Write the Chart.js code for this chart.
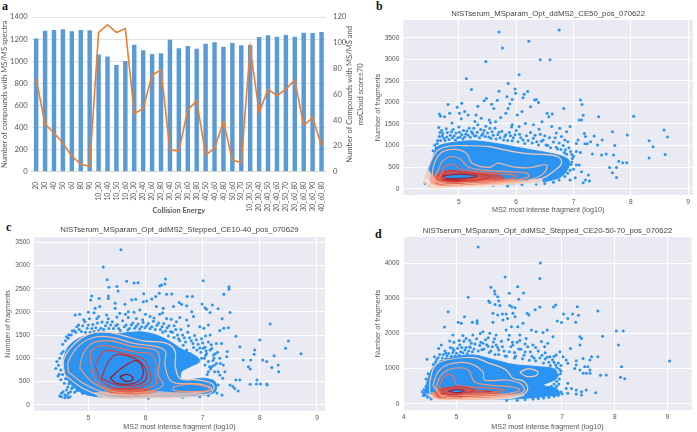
<!DOCTYPE html>
<html><head><meta charset="utf-8">
<style>
html,body{margin:0;padding:0;background:#fff;width:697px;height:432px;overflow:hidden}
canvas{position:absolute}
.tag{position:absolute;font:bold 12px "Liberation Serif",serif;color:#111}
</style>
<script src="https://cdn.jsdelivr.net/npm/chart.js@4"></script>
</head><body>
<div class="tag" style="left:2px;top:-1px">a</div>
<div class="tag" style="left:376px;top:-1px">b</div>
<div class="tag" style="left:6px;top:220px">c</div>
<div class="tag" style="left:375px;top:227px">d</div>
<canvas id="ca" style="left:0;top:0"></canvas>
<canvas id="cb" style="left:350px;top:0"></canvas>
<canvas id="cc" style="left:0;top:215px"></canvas>
<canvas id="cd" style="left:350px;top:215px"></canvas>
<script>
/* ---------- panel a ---------- */
const energies = ["20","30","40","50","60","80","90","10_30","10_40","10_50","10_60","20_30","20_40","20_60","20_80","30_40","30_50","30_60","30_80","40_50","40_60","40_80","50_60","50_70","10_30_50","20_30_40","20_40_50","20_40_60","20_50_70","20_60_80","30_60_80","30_60_90","40_60_80"];
const compoundsWithSpectra = [1205,1275,1283,1290,1272,1283,1280,1060,1042,965,1002,1150,1100,1065,1072,1195,1118,1138,1112,1157,1172,1130,1165,1145,1147,1220,1235,1222,1238,1222,1258,1255,1265];
const compoundsWithScore = [72,37,30,22,12,6,4,108,114,108,111,45,49,75,79,17,16,48,55,13,18,39,9,7,96,46,64,59,64,71,36,42,20];
const leftTicks = [0,200,400,600,800,1000,1200,1400];
const rightTicks = [0,20,40,60,80,100,120];

/* ---------- panel b ---------- */
const bTitle = "NISTserum_MSparam_Opt_ddMS2_CE50_pos_070622";
const bXTicks = [5,6,7,8,9];
const bYTicks = [0,500,1000,1500,2000,2500,3000,3500];
const bPoints = [[5.70,3630],[5.76,3260],[5.47,2950],[6.22,3415],[6.42,2990],[6.59,2990],[6.75,3680],[6.05,2640],[5.13,2550],[5.22,2300],[5.86,2440],[5.70,2260],[5.98,2310],[5.99,2210],[6.20,2250],[6.14,2190],[6.12,2110],[5.84,2130],[5.48,2090],[5.44,2040],[4.81,1950],[4.97,1890],[5.05,1980],[5.33,1910],[5.67,2050],[5.57,1960],[5.61,1860],[5.93,2070],[5.89,1970],[5.86,1860],[5.82,1750],[6.32,2055],[6.35,2070],[6.39,2000],[6.25,1900],[6.10,1790],[6.02,1710],[6.54,1750],[6.57,1670],[6.63,1730],[6.83,1860],[7.12,2055],[7.15,1950],[7.17,1700],[7.10,1590],[7.14,1590],[7.44,1670],[8.05,1680],[4.66,1730],[4.68,1680],[4.75,1670],[4.84,1750],[5.01,1750],[5.10,1790],[5.16,1710],[5.30,1710],[5.39,1630],[5.53,1590],[5.73,1650],[5.64,1550],[5.93,1480],[6.05,1440],[6.16,1510],[6.30,1480],[6.45,1550],[6.62,1440],[6.76,1400],[6.94,1440],[6.88,1320],[6.79,1210],[8.58,1360],[8.64,1200],[8.32,1110],[8.39,975],[8.32,710],[8.60,795],[7.94,1245],[7.68,1320],[7.72,1000],[7.36,1220],[7.50,1130],[7.42,1010],[7.19,1280],[7.21,1210],[7.30,1090],[7.08,1130],[7.05,1050],[7.20,1040],[7.24,1040],[7.12,840],[7.33,805],[7.05,860],[7.49,780],[7.57,805],[7.70,780],[7.79,635],[7.86,600],[7.93,600],[7.63,490],[7.75,490],[7.68,370],[7.75,260],[7.05,550],[7.10,550],[7.14,395],[7.26,320],[7.21,200],[7.28,180],[7.17,140],[7.03,255],[6.94,200],
[4.65,1420],[4.70,1350],[4.72,1280],[4.66,1210],[4.78,1390],[4.80,1300],[4.85,1240],[4.68,1120],[4.74,1170],[4.90,1370],[4.95,1290],[5.00,1430],[5.02,1200],[5.08,1350],[5.12,1270],[5.18,1400],[5.22,1320],[5.27,1230],[5.33,1480],[5.38,1370],[5.42,1280],[5.47,1450],[5.52,1200],[5.58,1320],[5.63,1400],[5.68,1250],[5.75,1330],[5.80,1210],[5.88,1300],[5.95,1180],[6.00,1350],[6.06,1260],[6.12,1130],[6.18,1230],[6.25,1300],[6.30,1170],[6.36,1090],[6.42,1260],[6.47,1130],[6.52,1010],[6.58,1180],[6.65,1080],[6.70,960],[6.75,1060],[6.82,1000],[6.86,900],[6.90,1090],[6.95,860],[6.98,700],[7.00,450],[6.97,620],[4.62,1050],[4.60,950],[4.55,880],[5.92,1430],[5.55,1530],[5.28,1560],[5.04,1620],[4.88,1520],[6.40,1380],[6.70,1290],[6.85,1130],
[4.58,1010],[4.63,1120],[4.67,1300],[4.71,1220],[4.76,1120],[4.79,1200],[4.83,1140],[4.87,1320],[4.89,1180],[4.92,1230],[4.94,1130],[4.98,1180],[5.01,1310],[5.05,1250],[5.07,1150],[5.10,1200],[5.14,1340],[5.16,1240],[5.20,1190],[5.24,1280],[5.26,1400],[5.30,1220],[5.32,1310],[5.36,1180],[5.40,1240],[5.44,1350],[5.46,1210],[5.50,1290],[5.54,1400],[5.56,1170],[5.60,1240],[5.65,1150],[5.70,1310],[5.72,1180],[5.78,1130],[5.82,1250],[5.85,1120],[5.90,1230],[5.93,1110],[5.98,1250],[6.03,1090],[6.08,1180],[6.15,1050],[6.21,1120],[6.28,1060],[6.33,1240],[6.39,1010],[6.44,1100],[6.50,1230],[6.55,1000],[6.60,950],[6.68,1180],[6.72,920],[6.78,910],[6.84,840],[6.88,800],[6.92,950],[6.97,790],[7.00,750],[6.96,560],[6.94,430],[6.90,360],[6.85,280],[6.75,200],[6.65,150],[6.50,120],[6.35,110],[4.41,120],[4.44,260],[4.47,430],[4.52,600],[4.50,90],[5.60,80],[5.85,60],[6.10,100]];
const bDense = [[4.45,355],[4.55,740],[4.62,970],[4.84,1060],[5.24,1110],[5.64,1050],[6.10,940],[6.56,830],[6.79,760],[6.92,665],[6.92,510],[6.79,280],[6.56,180],[6.27,145],[5.87,105],[5.41,110],[4.84,110],[4.49,160]];
const bFills = [
 {color:"rgba(253,224,208,0.85)",ring:[[4.39,240],[4.46,430],[4.55,300],[4.84,250],[5.99,180],[6.45,220],[6.45,130],[5.99,100],[5.41,50],[4.84,15],[4.49,30]]},
 {color:"rgba(245,160,130,0.9)",ring:[[4.50,320],[4.80,270],[5.60,240],[6.10,180],[5.80,110],[5.20,70],[4.70,60],[4.52,120]]},
 {color:"rgba(225,70,55,0.8)",ring:[[4.55,300],[4.75,420],[5.05,420],[5.45,380],[5.75,300],[5.80,190],[5.45,120],[4.95,90],[4.62,110]]},
 {color:"rgba(175,15,30,0.95)",ring:[[4.67,220],[5.07,210],[5.41,185],[5.13,115],[4.75,125]]},
 {color:"#2b93f2",ring:[[4.72,295],[4.95,330],[5.27,315],[5.31,280],[5.07,240],[4.78,240]]}];
const bContours = [
 {color:"#f9cdb8",ring:[[4.41,240],[4.52,665],[4.64,895],[4.84,990],[5.13,997],[5.53,975],[5.82,895],[6.16,820],[6.62,780],[6.75,725],[6.79,585],[6.68,430],[6.45,240],[5.99,140],[5.41,85],[4.84,45],[4.49,45],[4.39,160]]},
 {color:"#f4b59e",ring:[[4.54,430],[4.60,680],[4.72,860],[4.95,910],[5.13,820],[5.23,590],[5.53,495],[5.67,590],[5.82,550],[5.93,510],[6.22,485],[6.53,550],[6.48,355],[6.22,200],[5.87,155],[5.30,125],[4.72,110],[4.55,240]]},
 {color:"#ee967b",ring:[[4.64,430],[4.70,610],[4.84,740],[5.01,700],[5.16,510],[5.41,430],[5.87,395],[6.19,355],[6.22,280],[5.99,200],[5.30,160],[4.72,140],[4.58,240]]},
 {color:"#e4705a",ring:[[4.70,355],[4.75,510],[4.90,570],[5.04,450],[5.41,380],[5.82,340],[6.02,295],[5.87,225],[5.30,180],[4.78,160],[4.66,240]]},
 {color:"#cf3d35",ring:[[4.72,315],[4.84,430],[5.01,380],[5.36,340],[5.53,280],[5.30,200],[4.84,180],[4.70,240]]},
 {color:"#8c2a4a",ring:[[4.72,295],[4.95,330],[5.27,315],[5.31,280],[5.07,240],[4.78,240]]}];

/* ---------- panel c ---------- */
const cTitle = "NISTserum_MSparam_Opt_ddMS2_Stepped_CE10-40_pos_070629";
const cXTicks = [5,6,7,8,9];
const cYTicks = [0,500,1000,1500,2000,2500,3000,3500];
const cPoints = [[5.57,3340],[5.26,2970],[5.33,2695],[5.67,2660],[5.80,2620],[5.87,2630],[5.36,2530],[5.50,2545],[5.52,2450],[6.35,2710],[6.34,2600],[6.28,2580],[6.25,2560],[7.01,2670],[7.46,2540],[7.46,2490],[7.37,2380],[8.18,1740],[8.50,1370],[8.45,1215],[8.72,1100],[8.00,1395],[7.91,1180],[7.90,1085],[7.65,1250],[7.58,1475],[7.48,1985],[7.34,1850],[7.30,1600],[7.45,1660],[7.37,1645],[7.27,2065],[7.17,2150],[7.07,2055],[6.99,2170],[7.04,2090],[7.13,1985],[5.06,2345],[5.04,2255],[5.19,2290],[5.35,2345],[5.35,2290],[5.47,2185],[5.76,2260],[5.83,2270],[5.97,2390],[5.64,2165],[5.96,2220],[6.02,2235],[6.11,2280],[6.18,2330],[6.24,2400],[6.37,2380],[6.46,2385],[6.59,2205],[6.73,2330],[6.82,2330],[6.63,2165],[6.72,2135],[6.81,2005],[6.84,1900],[4.77,1935],[4.85,1950],[5.00,1990],[5.12,2080],[5.20,2115],[5.47,2080],[5.55,1970],[5.70,2005],[5.90,2040],[6.19,2115],[6.31,2080],[6.49,2115],[4.62,1465],[4.56,1145],[4.53,1105],[4.65,1430],[4.83,1720],[4.94,1790],[5.15,1860],[5.32,1935],[5.84,1860],[6.08,1900],[6.37,1860],[6.54,1790],[6.72,1825],[6.95,1680],[7.02,1645],[7.10,1720],[7.13,1500],[7.24,1320],[7.33,1320],[7.43,1145],[7.42,1035],[7.71,965],[7.84,965],[7.80,820],[7.83,770],[8.05,965],[8.12,930],[8.25,1055],[8.21,800],[8.32,855],[8.33,710],[7.83,440],[7.94,445],[7.95,530],[8.01,445],[8.12,445],[8.13,425],[7.58,530],[7.65,530],[7.48,425],[7.53,390],[7.56,350],[7.62,295],[7.34,210],[7.27,425],[4.49,655],
[4.53,170],[4.59,210],[4.65,245],[4.68,170],[4.56,280],[4.62,315],[4.65,150],[4.59,150],[4.53,245],[4.69,280],[4.71,350],[4.50,185],[4.62,195],[7.07,1105],[7.10,930],[7.19,1070],[7.24,890],[7.16,820],[7.30,1000],[7.36,855],[7.21,710],[7.10,710],[7.04,855],[7.27,710],[7.39,710],[7.13,1180],[6.98,1000],[7.01,1215],
[4.70,1500],[4.75,1600],[4.80,1680],[4.88,1580],[4.92,1830],[4.98,1650],[5.03,1560],[5.08,1730],[5.13,1660],[5.18,1600],[5.24,1780],[5.30,1700],[5.36,1640],[5.42,1790],[5.48,1700],[5.53,1640],[5.60,1810],[5.66,1720],[5.72,1640],[5.78,1760],[5.84,1690],[5.90,1630],[5.96,1770],[6.02,1700],[6.08,1640],[6.14,1800],[6.20,1710],[6.26,1620],[6.32,1750],[6.38,1660],[6.44,1580],[6.50,1700],[6.56,1500],[6.62,1620],[6.68,1440],[6.74,1560],[6.80,1380],[6.86,1490],[6.92,1300],[6.98,1420],[7.04,1240],[7.10,1350],[7.16,1210],[7.22,1100],[6.66,1280],[6.72,1180],[6.78,1100],[6.90,1180],[6.84,1230],[7.05,1480],[7.03,1000],[7.12,820],[7.18,950],[4.50,1000],[4.48,850],[4.52,750],[4.55,650],[4.60,560],[4.66,450],[4.72,370],[4.80,300],[5.00,220],[5.30,180],[5.60,170],[5.90,170],[6.20,180],[6.50,210],[6.80,190],[7.10,200],[7.25,250],
[4.55,1300],[4.60,1380],[4.66,1510],[4.72,1590],[4.78,1560],[4.84,1620],[4.90,1700],[4.95,1560],[5.00,1720],[5.06,1640],[5.10,1580],[5.16,1760],[5.22,1650],[5.27,1620],[5.33,1770],[5.39,1720],[5.44,1640],[5.51,1730],[5.56,1600],[5.63,1680],[5.69,1610],[5.75,1720],[5.81,1650],[5.87,1740],[5.93,1680],[5.99,1660],[6.05,1750],[6.11,1680],[6.17,1620],[6.23,1760],[6.29,1680],[6.35,1590],[6.41,1700],[6.47,1560],[6.53,1620],[6.58,1420],[6.65,1500],[6.70,1350],[6.77,1440],[6.83,1320],[6.89,1400],[6.95,1220],[7.00,1330],[7.06,1160],[7.15,1290],[7.20,1000],[7.26,1130],[7.31,890],[7.20,850],[7.14,770],[7.08,650],[7.30,640],[7.35,570],[7.05,1060],[6.97,1130],[6.60,1380],[6.50,1450],[6.40,1480],[6.30,1560],[5.50,1890],[5.35,1850],[5.18,1900],[5.02,1850],[5.70,1880],[5.95,1830],[6.15,1870],[6.25,1950],[6.45,1840],[6.60,1880],[6.75,1700],[5.10,1980],[5.65,1950],[5.80,1990],[6.00,1950],[6.30,1980],[4.45,930],[4.43,780],[4.47,620],[4.52,540],[4.58,460],[4.64,380],[4.76,270],[4.90,240],[5.15,200],[5.45,160],[5.75,150],[6.05,140],[6.35,190],[6.65,160],[6.95,170]];
const cDense = [[4.57,1000],[4.65,1250],[4.85,1440],[5.15,1540],[5.50,1530],[5.90,1570],[6.19,1500],[6.43,1360],[6.60,1220],[6.89,1040],[6.95,930],[6.78,820],[6.63,710],[6.63,530],[7.01,570],[7.22,495],[7.22,280],[6.95,195],[6.08,165],[5.20,165],[4.85,280],[4.62,570]];
const cFills = [
 {color:"rgba(250,205,185,0.7)",ring:[[5.10,270],[5.79,315],[6.49,270],[7.10,230],[6.49,165],[5.79,140],[5.20,150]]},
 {color:"rgba(235,120,95,0.75)",ring:[[5.30,320],[5.79,340],[6.20,290],[5.90,200],[5.45,205]]},
 {color:"rgba(212,58,48,0.7)",ring:[[5.44,365],[5.90,365],[6.08,315],[5.90,245],[5.55,245],[5.32,290]]}];
const cContours = [
 {color:"#f9cdb8",ring:[[4.59,640],[4.56,930],[4.71,1250],[4.97,1500],[5.26,1575],[5.61,1490],[5.96,1375],[6.37,1320],[6.52,1145],[6.52,855],[6.60,570],[6.95,530],[7.19,425],[7.13,245],[6.72,170],[6.08,150],[5.38,150],[4.91,350]]},
 {color:"#f4b59e",ring:[[4.65,710],[4.65,930],[4.85,1290],[5.15,1465],[5.44,1445],[5.79,1320],[6.19,1250],[6.35,1145],[6.34,855],[6.46,495],[6.95,445],[7.16,350],[7.07,280],[6.54,245],[5.96,210],[5.32,245],[4.91,460]]},
 {color:"#ee967b",ring:[[4.85,785],[4.90,1070],[5.06,1320],[5.38,1375],[5.79,1250],[6.17,1180],[6.25,1000],[6.22,640],[6.31,425],[6.02,280],[5.44,280],[5.06,495]]},
 {color:"#ee967b",ring:[[6.49,390],[6.78,445],[7.07,390],[7.13,315],[6.78,280],[6.49,315]]},
 {color:"#e4705a",ring:[[5.03,1145],[5.20,1270],[5.50,1230],[5.85,1130],[6.08,1105],[6.18,930],[6.17,640],[6.19,460],[5.90,315],[5.44,315],[5.15,495],[5.06,785]]},
 {color:"#d4453c",ring:[[5.12,855],[5.29,1160],[5.61,1105],[5.96,985],[6.08,710],[6.08,495],[5.84,365],[5.44,365],[5.20,570]]},
 {color:"#bf2a2c",ring:[[5.23,570],[5.32,855],[5.47,1070],[5.73,1035],[5.96,855],[6.02,570],[5.84,425],[5.50,425]]},
 {color:"#a81c24",ring:[[5.38,570],[5.58,785],[5.82,950],[5.93,855],[5.95,605],[5.79,460],[5.50,460]]},
 {color:"#8f1020",ring:[[5.55,605],[5.67,655],[5.78,590],[5.76,520],[5.64,510]]}];

/* ---------- panel d ---------- */
const dTitle = "NISTserum_MSparam_Opt_ddMS2_Stepped_CE20-50-70_pos_070622";
const dXTicks = [4,5,6,7,8,9];
const dYTicks = [0,1000,2000,3000,4000];
const dPoints = [[5.41,4465],[6.59,4010],[6.58,3570],[5.92,3610],[5.22,3030],[5.65,3315],[5.72,3210],[5.73,3125],[5.78,3050],[6.00,3145],[6.16,3335],[6.27,3155],[6.18,2975],[5.61,2925],[5.63,2880],[5.73,2830],[5.80,2925],[5.82,2795],[6.01,2795],[6.05,2755],[6.11,2735],[6.58,2755],[6.49,2680],[4.84,2620],[7.68,2640],[7.29,2765],[6.88,2810],[6.84,2755],[7.03,2555],[7.11,2430],[7.20,2555],[7.31,2520],[7.26,2320],[6.91,2355],[6.99,2310],[8.03,2070],[8.16,2070],[7.77,1920],[8.07,1670],[8.13,1055],[7.84,815],[7.73,808],[8.11,750],[8.19,710],[9.04,1215],[4.77,2185],[5.15,2480],[5.03,2320],[5.09,2290],[5.30,2320],[5.39,2365],[5.39,2290],[5.69,2575],[5.87,2555],[5.94,2555],[5.97,2430],[5.88,2385],[5.78,2530],[5.69,2320],[6.07,2575],[6.11,2480],[6.34,2575],[6.37,2530],[6.26,2290],[6.16,2195],[6.04,2195],[6.42,2100],[6.51,2050],[6.64,2030],[6.72,2100],[6.83,1910],[6.61,1770],[6.67,1625],[6.73,1720],[5.31,1955],[5.18,1860],[5.12,1940],[4.93,1955],[4.87,1785],[4.71,1670],[4.66,1575],[4.58,1340],[4.44,1265],[5.50,2050],[5.63,2005],[5.75,1955],[5.94,2100],[6.20,1955],[6.32,1860],[6.45,1670],[6.07,1670],[5.75,1670],[5.50,1720],[5.06,1670],[4.80,1435],[4.93,1575],[5.25,1625],[6.96,1480],[6.89,1385],[7.02,1340],[6.77,1340],[7.08,1245],[7.11,1150],[7.34,1910],[7.37,1860],[7.34,1670],[7.16,1575],[7.56,1340],[7.53,1245],[7.40,1290],[7.27,1225],[7.27,1100],[7.24,1005],[7.34,960],[7.43,1055],[7.49,1055],[7.53,960],[7.68,1340],[7.40,865],[7.53,865],[7.46,865],[7.11,580],[7.08,435],[7.11,295],[7.18,435],[7.27,390],[7.37,340],[7.27,275],[7.37,245],[7.46,390],[7.64,315],[7.00,275],[4.39,295],[4.41,340],
[4.62,1250],[4.68,1400],[4.73,1300],[4.78,1500],[4.82,1360],[4.88,1600],[4.93,1460],[4.97,1360],[5.02,1580],[5.08,1480],[5.14,1780],[5.18,1600],[5.23,1500],[5.28,1720],[5.33,1560],[5.38,1850],[5.44,1660],[5.48,1540],[5.55,1820],[5.60,1640],[5.65,1500],[5.70,1760],[5.78,1600],[5.85,1780],[5.90,1500],[5.98,1830],[6.03,1620],[6.10,1460],[6.15,1750],[6.22,1550],[6.28,1380],[6.35,1620],[6.40,1480],[6.47,1300],[6.55,1500],[6.62,1380],[6.68,1270],[6.75,1180],[6.82,1250],[6.88,1100],[6.93,1160],[6.98,1090],[6.97,850],[6.95,700],[6.90,640],[6.85,560],[6.80,500],[6.75,440],[4.42,500],[4.38,400],[4.40,250],[4.45,180],[4.52,130],[4.60,950],[6.10,1300],[5.95,1350],[5.80,1400],
[4.52,900],[4.56,1120],[4.60,1180],[4.65,1310],[4.70,1200],[4.75,1400],[4.80,1280],[4.85,1430],[4.90,1350],[4.95,1520],[5.00,1440],[5.05,1380],[5.10,1600],[5.12,1450],[5.16,1530],[5.20,1420],[5.26,1600],[5.30,1480],[5.35,1700],[5.41,1500],[5.46,1750],[5.52,1560],[5.57,1680],[5.62,1460],[5.68,1620],[5.73,1400],[5.80,1530],[5.87,1620],[5.92,1360],[6.00,1480],[6.06,1750],[6.12,1350],[6.18,1560],[6.25,1280],[6.30,1470],[6.38,1240],[6.43,1350],[6.50,1220],[6.58,1300],[6.65,1160],[6.72,1320],[6.78,1090],[6.85,1180],[6.90,1030],[6.95,980],[6.98,930],[6.92,820],[6.88,770],[6.80,700],[6.72,650],[6.65,600],[6.94,560],[6.90,500],[6.98,330],[6.93,230],[6.85,210],[6.75,180],[6.65,160],[6.55,150],[6.45,130],[6.30,120],[6.15,100],[5.95,100],[4.35,330],[4.37,230],[4.42,700],[4.46,850],[5.45,2000],[5.60,1880],[5.25,1800],[5.05,1800],[4.95,1750],[5.72,1850],[6.00,1950],[6.20,1800],[6.30,1700],[6.50,1600],[6.68,1450],[6.85,1350]];
const dDense = [[4.39,295],[4.46,720],[4.58,1080],[4.87,1300],[5.31,1390],[5.69,1260],[6.07,1120],[6.51,1060],[6.87,980],[6.90,720],[6.64,530],[6.90,435],[6.95,265],[6.70,215],[6.39,165],[5.82,125],[4.87,150],[4.49,170]];
const dFills = [
 {color:"rgba(253,224,208,0.85)",ring:[[4.40,300],[4.55,260],[4.87,220],[6.01,220],[6.30,240],[6.01,130],[5.20,90],[4.60,110]]},
 {color:"rgba(245,150,120,0.9)",ring:[[4.50,340],[4.80,290],[5.70,280],[6.10,230],[5.70,140],[5.00,110],[4.62,130]]},
 {color:"rgba(230,75,60,0.8)",ring:[[4.58,350],[4.75,470],[5.05,470],[5.40,400],[5.75,350],[5.85,240],[5.50,160],[4.87,135],[4.65,175]]},
 {color:"rgba(175,15,30,0.95)",ring:[[4.68,265],[5.12,265],[5.09,170],[4.77,170]]},
 {color:"rgba(190,30,40,0.95)",ring:[[5.50,340],[5.60,355],[5.68,335],[5.58,315]]},
 {color:"#2b93f2",ring:[[4.84,360],[5.00,410],[5.15,360],[5.00,315]]}];
const dContours = [
 {color:"#f9cdb8",ring:[[4.49,627],[4.58,1055],[4.80,1245],[5.31,1310],[5.63,1150],[5.94,960],[6.07,722],[6.26,645],[6.35,435],[6.26,265],[5.82,170],[4.87,130],[4.52,200]]},
 {color:"#f9cdb8",ring:[[6.20,895],[6.35,990],[6.54,910],[6.51,800],[6.32,780]]},
 {color:"#f4b59e",ring:[[4.55,530],[4.65,910],[4.87,1130],[5.25,1150],[5.50,910],[5.53,675],[5.94,675],[6.20,580],[6.29,390],[6.13,265],[5.50,200],[4.74,200]]},
 {color:"#ee967b",ring:[[4.61,485],[4.71,815],[4.93,1005],[5.22,960],[5.34,627],[5.63,530],[6.01,485],[6.20,390],[6.01,295],[5.37,245],[4.71,245]]},
 {color:"#e4705a",ring:[[4.65,390],[4.74,722],[4.87,836],[4.96,722],[5.00,530],[5.50,455],[5.91,390],[5.50,295],[4.80,265]]},
 {color:"#cf3d35",ring:[[4.71,390],[5.00,485],[5.34,390],[5.03,275],[4.74,295]]},
 {color:"#8c2a4a",ring:[[4.84,360],[5.00,410],[5.15,360],[5.00,315]]}];

/* ---------- drawing ---------- */
const toXY = p => ({x:p[0],y:p[1]});
const closed = r => r.concat([r[0]]).map(toXY);
const PT = "#2b93f2", TXT = "#555", TITLE_SIZE = 7.8;

function background(){return {id:"plotBg",beforeDraw(c){const a=c.chartArea,x=c.ctx;x.save();x.fillStyle="#EAEAF2";x.fillRect(a.left,a.top,a.right-a.left,a.bottom-a.top);x.restore();}};}

function scatterPanel(id,w,h,cfg){
  const el=document.getElementById(id);el.width=w;el.height=h;el.style.width=w+"px";el.style.height=h+"px";
  const layers=[];
  layers.push({data:closed(cfg.dense),showLine:true,fill:"shape",backgroundColor:PT,borderColor:PT,borderWidth:1,pointRadius:0,tension:0.3});
  layers.push({data:cfg.points.map(toXY),showLine:false,pointRadius:1.5,pointBorderWidth:0,pointBackgroundColor:PT});
  cfg.fills.forEach(f=>layers.push({data:closed(f.ring),showLine:true,fill:"shape",backgroundColor:f.color,borderWidth:0,borderColor:"transparent",pointRadius:0,tension:0.35}));
  cfg.contours.forEach(c=>layers.push({data:closed(c.ring),showLine:true,fill:false,borderColor:c.color,borderWidth:1.2,pointRadius:0,tension:0.35}));
  layers.forEach((l,i)=>{l.order=layers.length-i;});
  const scale=(min,max,ticks,title,fit,pad,titlePad)=>({type:"linear",min,max,
    afterBuildTicks(s){s.ticks=ticks.map(v=>({value:v}));},
    afterFit:fit,
    grid:{color:"#ffffff",lineWidth:1,drawTicks:false},border:{display:false},
    ticks:{color:TXT,font:{family:"Liberation Sans",size:6.6},maxRotation:0,autoSkip:false,padding:pad,callback:v=>String(v)},
    title:{display:true,text:title,color:TXT,font:{family:"Liberation Sans",size:7.2},padding:titlePad}});
  new Chart(el,{type:"scatter",data:{datasets:layers},plugins:[background()],
    options:{responsive:false,animation:false,
      layout:{padding:{right:cfg.right,left:0,top:0,bottom:0}},
      plugins:{legend:{display:false},tooltip:{enabled:false},
        title:{display:true,text:cfg.title,fullSize:false,color:"#444",font:{family:"Liberation Sans",size:TITLE_SIZE,weight:"normal"},padding:{top:cfg.titleTop,bottom:cfg.top-cfg.titleTop-TITLE_SIZE*1.2}}},
      scales:{
        x:scale(cfg.xr[0],cfg.xr[1],cfg.xt,"MS2 most intense fragment (log10)",s=>{s.height=cfg.bottom;},3,{top:0,bottom:1}),
        y:scale(cfg.yr[0],cfg.yr[1],cfg.yt,"Number of fragments",s=>{s.width=cfg.left;},4,{top:cfg.yTitleX,bottom:0})
      }}});
}

scatterPanel("cb",347,215,{title:bTitle,points:bPoints,dense:bDense,fills:bFills,contours:bContours,xt:bXTicks,yt:bYTicks,xr:[4.03,9.086],yr:[-146,3910],left:53.3,right:1.3,top:20,bottom:20,titleTop:9,yTitleX:24});
scatterPanel("cc",348,217,{title:cTitle,points:cPoints,dense:cDense,fills:cFills,contours:cContours,xt:cXTicks,yt:cYTicks,xr:[4.05,9.14],yr:[-136,3614],left:34,right:23,top:22,bottom:21,titleTop:10.5,yTitleX:4});
scatterPanel("cd",347,217,{title:dTitle,points:dPoints,dense:dDense,fills:dFills,contours:dContours,xt:dXTicks,yt:dYTicks,xr:[3.99,9.46],yr:[-180,4750],left:53.3,right:5.3,top:22,bottom:22,titleTop:11,yTitleX:24});

/* panel a */
(function(){
  const el=document.getElementById("ca");el.width=367;el.height=215;el.style.width="367px";el.style.height="215px";
  const rightLabel={id:"rightLabel",afterDraw(c){
    const x=c.ctx,a=c.chartArea,mid=(a.top+a.bottom)/2;
    x.save();x.fillStyle="#595959";x.font='7.6px Lato';x.textAlign="center";x.textBaseline="middle";
    [["Number of Compounds with MS/MS and",349.5],["msCloud score≥70",360.5]].forEach(([t,px])=>{
      x.save();x.translate(px,mid);x.rotate(-Math.PI/2);x.fillText(t,0,0);x.restore();});
    x.restore();}};
  const num=v=>String(v);
  new Chart(el,{data:{labels:energies,datasets:[
      {type:"line",data:compoundsWithScore,yAxisID:"y2",borderColor:"#ED7D31",borderWidth:1.6,pointRadius:0,tension:0,order:1},
      {type:"bar",data:compoundsWithSpectra,yAxisID:"y",backgroundColor:"#5B9BD5",categoryPercentage:1,barPercentage:0.5,order:2}]},
    plugins:[rightLabel],
    options:{responsive:false,animation:false,
      layout:{padding:{top:17,left:0,right:0,bottom:0}},
      plugins:{legend:{display:false},tooltip:{enabled:false}},
      scales:{
        x:{afterFit(s){s.height=43.3;},grid:{display:false},border:{color:"#d9d9d9"},
           ticks:{color:"#595959",font:{family:"Lato",size:6.8},minRotation:90,maxRotation:90,autoSkip:false,padding:2},
           title:{display:true,text:"Collision Energy",color:"#595959",font:{family:"Lato",size:7.4,weight:"bold"},padding:{top:0,bottom:0}}},
        y:{min:0,max:1400,afterBuildTicks(s){s.ticks=leftTicks.map(v=>({value:v}));},afterFit(s){s.width=31.7;},
           grid:{color:"#e2e2e2",drawTicks:false},border:{display:false},
           ticks:{color:"#595959",font:{family:"Lato",size:7.6},padding:4,callback:num},
           title:{display:true,text:"Number of compounds with MS/MS spectra",color:"#595959",font:{family:"Lato",size:7.6},padding:{top:0,bottom:0}}},
        y2:{position:"right",min:0,max:120,afterBuildTicks(s){s.ticks=rightTicks.map(v=>({value:v}));},afterFit(s){s.width=41;},
           grid:{display:false,drawTicks:false},border:{display:false},
           ticks:{color:"#595959",font:{family:"Lato",size:7.6},padding:7,callback:num}}
      }}});
})();
</script>
</body></html>
